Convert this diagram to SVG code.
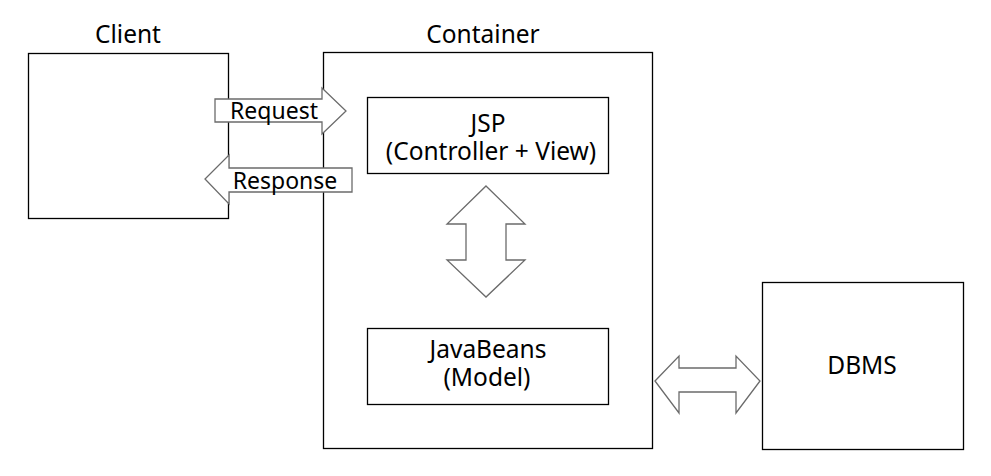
<svg xmlns="http://www.w3.org/2000/svg" width="991" height="476" viewBox="0 0 991 476">
<style>
.box{fill:#fff;stroke:#000;stroke-width:1.3}
.arr{fill:#fff;stroke:#6b6b6b;stroke-width:1.3;stroke-linejoin:miter}
text{font-family:"Noto Sans","Open Sans","DejaVu Sans",sans-serif;font-size:24.5px;fill:#000;text-anchor:middle}
.s{font-size:23px}
</style>
<rect width="991" height="476" fill="#fff"/>
<g id="client">
<rect class="box" x="28.5" y="53.5" width="200" height="165"/>
<text x="128" y="43">Client</text>
</g>
<g id="container">
<rect class="box" x="323.5" y="52.5" width="329" height="396"/>
<text x="483" y="43">Container</text>
</g>
<g id="jsp">
<rect class="box" x="367.5" y="97.5" width="241" height="76"/>
<text><tspan x="488" y="132">JSP</tspan><tspan x="491" y="160">(Controller + View)</tspan></text>
</g>
<g id="javabeans">
<rect class="box" x="367.5" y="328.5" width="241" height="76"/>
<text><tspan x="488" y="358">JavaBeans</tspan><tspan x="487" y="386">(Model)</tspan></text>
</g>
<g id="dbms">
<rect class="box" x="762.5" y="282.5" width="201" height="167"/>
<text x="862" y="374">DBMS</text>
</g>
<g id="connectors">
<path class="arr" d="M215,99 H322 V88 L346,111 L322,134 V122 H215 Z"/>
<text class="s" x="274" y="119">Request</text>
<path class="arr" d="M352,168 H229 V155 L205,179 L229,204 V192 H352 Z"/>
<text class="s" x="285" y="189">Response</text>
<path class="arr" d="M486,186 L525,224 H506 V260 H525 L486,297 L447,260 H466 V224 H447 Z"/>
<path class="arr" d="M655,381 L679,356 V368 H736 V356 L760,381 L736,413 V392 H679 V413 Z"/>
</g>
</svg>
